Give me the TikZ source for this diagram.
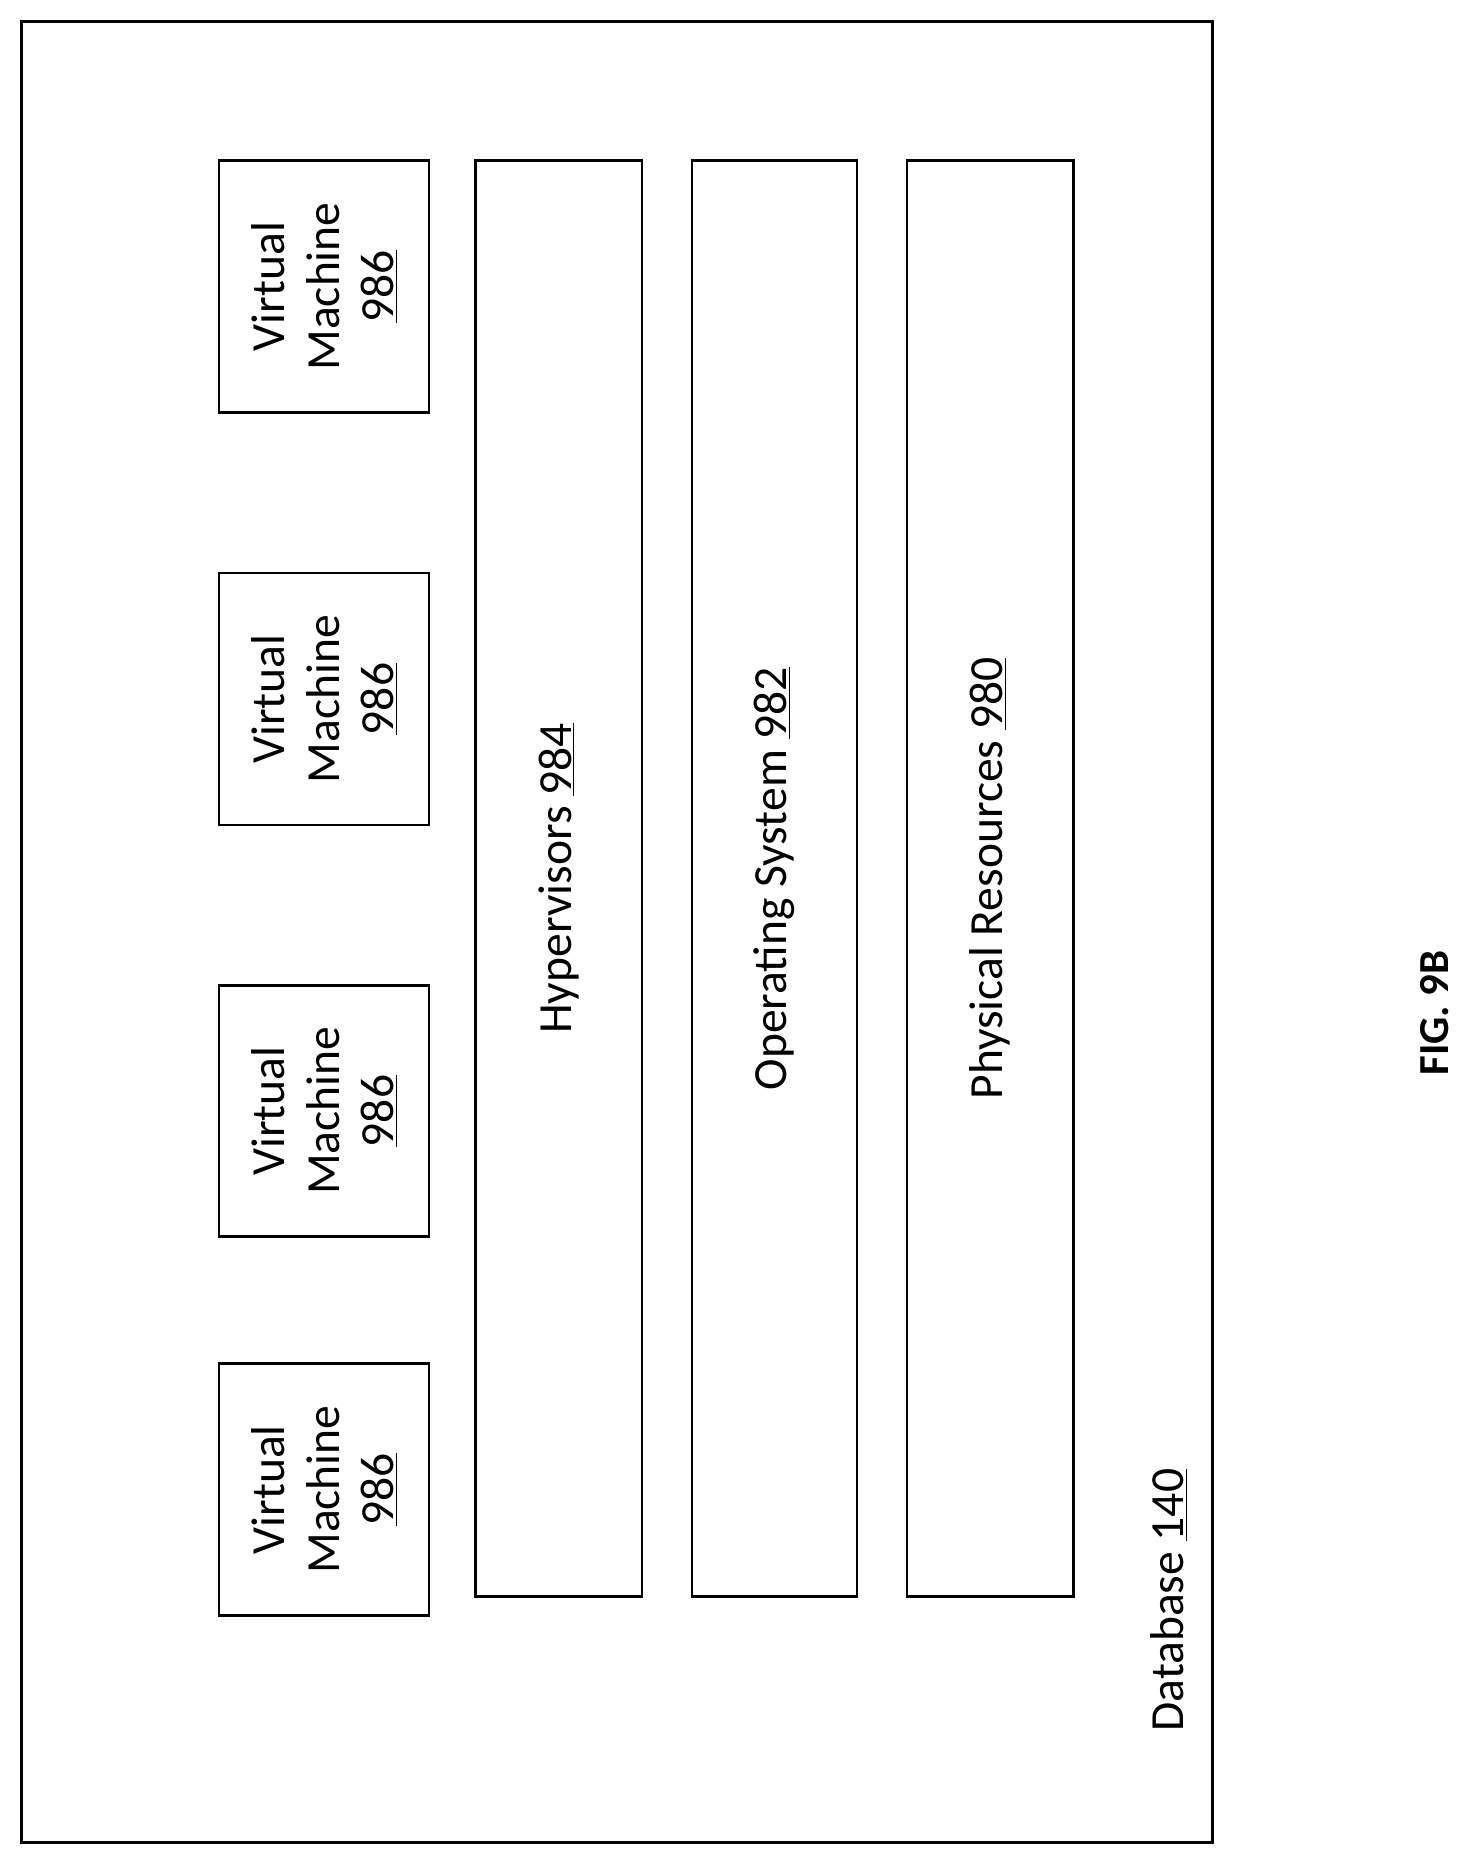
\documentclass[tikz,border=0pt]{standalone}
\usepackage{fontspec}
\setmainfont{Carlito}
\begin{document}
\begin{tikzpicture}[x=1pt,y=-1pt,
  lbl/.style={rotate=90,align=center,font=\fontsize{40}{46}\selectfont}]
\useasboundingbox (0,0) rectangle (1240,1573);
\draw[line width=2pt] (18,18) rectangle (1020,1550);
\foreach \i/\a/\b in {1/135/347,2/482/694,3/829/1040,4/1147/1359}{
  \draw[line width=2pt] (184,\a) rectangle (361,\b);
  \node[lbl] (vm\i) at (272.5,{(\a+\b)/2}) {Virtual\\Machine\\\underline{986}};
}
\draw[line width=2pt] (400,135) rectangle (540,1343);
\node[lbl] (hyp) at (470,739) {Hypervisors \underline{984}};
\draw[line width=2pt] (582,135) rectangle (721,1343);
\node[lbl] (os) at (651.5,739) {Operating System \underline{982}};
\draw[line width=2pt] (763,135) rectangle (903,1343);
\node[lbl] (phys) at (833,739) {Physical Resources \underline{980}};
\node[lbl] (db) at (983,1346) {Database \underline{140}};
\node[lbl,font=\bfseries\fontsize{36}{40}\selectfont] (fig) at (1207,852) {FIG. 9B};
\end{tikzpicture}
\end{document}
